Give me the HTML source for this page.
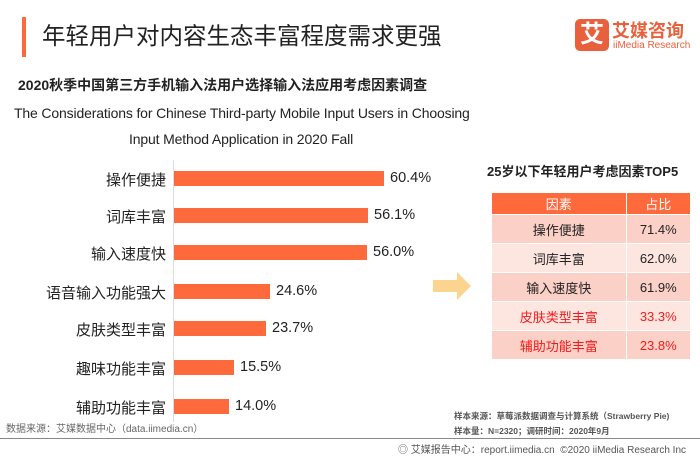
<!DOCTYPE html>
<html><head><meta charset="utf-8"><style>
body{margin:0;width:700px;height:455px;background:#fff;position:relative;overflow:hidden;font-family:"Liberation Sans","Noto Sans CJK SC",sans-serif;color:#222}
.a{position:absolute;white-space:nowrap}
.bar{position:absolute;left:174px;height:15px;background:#ff6a3d}
.lab{position:absolute;right:534px;font-size:15px;text-align:right}
.val{position:absolute;font-size:14.5px}
table{position:absolute;left:491px;top:192px;width:200px;border-collapse:collapse;font-size:13px}
td{height:28px;text-align:center;border:1px solid #fff;padding:0}
th{height:19px;background:#ff6a3d;color:#fff;border:1px solid #fff;font-weight:normal;font-size:13px}
</style></head><body>
<div class="a" style="left:22px;top:17px;width:4px;height:40px;background:#ff6a3d"></div>
<div class="a" style="left:42px;top:17px;font-size:23.5px;color:#222">年轻用户对内容生态丰富程度需求更强</div>
<div class="a" style="left:575px;top:19px;width:34px;height:32px;background:#e8613c;border-radius:5px;color:#fff;font-size:24px;text-align:center;line-height:32px;font-weight:bold">艾</div>
<div class="a" style="left:612px;top:17px;font-size:18px;color:#e8613c;font-weight:bold">艾媒咨询</div>
<div class="a" style="left:613px;top:40px;font-size:10px;color:#e8613c">iiMedia Research</div>
<div class="a" style="left:18px;top:75px;font-size:14px;font-weight:bold">2020秋季中国第三方手机输入法用户选择输入法应用考虑因素调查</div>
<div class="a" style="left:14px;top:105px;font-size:14px;letter-spacing:-0.15px">The Considerations for Chinese Third-party Mobile Input Users in Choosing</div>
<div class="a" style="left:129px;top:131px;font-size:14px;letter-spacing:-0.15px">Input Method Application in 2020 Fall</div>
<div class="a" style="left:173px;top:160px;width:1px;height:262px;background:#ddd"></div>
<div class="bar" style="top:171px;width:210px"></div><div class="lab" style="top:169px">操作便捷</div><div class="val" style="left:390px;top:170px">60.4%</div>
<div class="bar" style="top:208px;width:194px"></div><div class="lab" style="top:206px">词库丰富</div><div class="val" style="left:374px;top:207px">56.1%</div>
<div class="bar" style="top:245px;width:193px"></div><div class="lab" style="top:243px">输入速度快</div><div class="val" style="left:373px;top:244px">56.0%</div>
<div class="bar" style="top:284px;width:96px"></div><div class="lab" style="top:282px">语音输入功能强大</div><div class="val" style="left:276px;top:283px">24.6%</div>
<div class="bar" style="top:321px;width:92px"></div><div class="lab" style="top:319px">皮肤类型丰富</div><div class="val" style="left:272px;top:320px">23.7%</div>
<div class="bar" style="top:360px;width:60px"></div><div class="lab" style="top:358px">趣味功能丰富</div><div class="val" style="left:240px;top:359px">15.5%</div>
<div class="bar" style="top:399px;width:55px"></div><div class="lab" style="top:397px">辅助功能丰富</div><div class="val" style="left:235px;top:398px">14.0%</div>
<svg class="a" style="left:433px;top:272px" width="40" height="28"><polygon points="0,8 24,8 24,0 38,14 24,28 24,20 0,20" fill="#fbd48f"/></svg>
<div class="a" style="left:487px;top:161px;font-size:13px;font-weight:bold">25岁以下年轻用户考虑因素TOP5</div>
<table>
<tr><th>因素</th><th>占比</th></tr>
<tr style="background:#fbd0c6"><td>操作便捷</td><td>71.4%</td></tr>
<tr style="background:#fde6e0"><td>词库丰富</td><td>62.0%</td></tr>
<tr style="background:#fbd0c6"><td>输入速度快</td><td>61.9%</td></tr>
<tr style="background:#fde6e0;color:#f01c1c"><td>皮肤类型丰富</td><td>33.3%</td></tr>
<tr style="background:#fbd0c6;color:#f01c1c"><td>辅助功能丰富</td><td>23.8%</td></tr>
</table>
<div class="a" style="left:6px;top:420px;font-size:10px;color:#666">数据来源：艾媒数据中心（data.iimedia.cn）</div>
<div class="a" style="left:454px;top:410px;font-size:8.5px;color:#555;font-weight:bold">样本来源：草莓派数据调查与计算系统（Strawberry Pie)</div>
<div class="a" style="left:454px;top:425px;font-size:8.5px;color:#555;font-weight:bold">样本量：N=2320；调研时间：2020年9月</div>
<div class="a" style="left:0;top:438px;width:700px;height:1px;background:#888"></div>
<div class="a" style="left:398px;top:441px;font-size:10px;color:#555">◎ 艾媒报告中心：report.iimedia.cn&nbsp;&nbsp;©2020 iiMedia Research Inc</div>
</body></html>
